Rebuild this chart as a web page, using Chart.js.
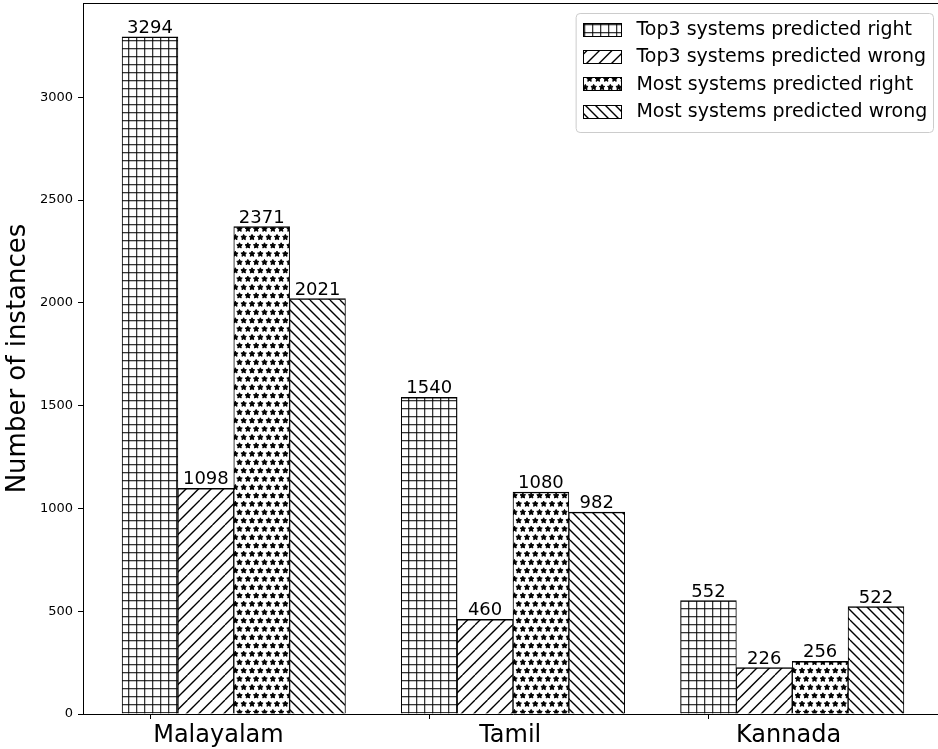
<!DOCTYPE html>
<html><head><meta charset="utf-8">
<script src="https://cdn.jsdelivr.net/npm/chart.js@4.4.1/dist/chart.umd.min.js"></script>
<style>
html,body{margin:0;padding:0;overflow:hidden;background:#fff;width:938px;height:749px}
#wrap{width:938px;height:749px;overflow:hidden;position:relative}
canvas{display:block}
</style></head>
<body><div id="wrap"><canvas id="c" width="944" height="749" style="width:944px;height:749px"></canvas></div>
<script>
// ---- data ----
const categories = ['Malayalam', 'Tamil', 'Kannada'];
const seriesLabels = ['Top3 systems predicted right', 'Top3 systems predicted wrong', 'Most systems predicted right', 'Most systems predicted wrong'];
const top3Right = [3294, 1540, 552];
const top3Wrong = [1098, 460, 226];
const mostRight = [2371, 1080, 256];
const mostWrong = [2021, 982, 522];
const yTicks = [0, 500, 1000, 1500, 2000, 2500, 3000];
const yMax = 3459;
// ---- layout helpers (positions, not data) ----
const xTickMarks = [0, 1, 2];
const labelShift = [0.245, 0.29, 0.287];
const barStep = 0.2;
const FONT = '"DejaVu Sans", sans-serif';

function makePattern(kind) {
  const c = document.createElement('canvas');
  let w = 8, h = 8;
  if (kind === 'fwd') { w = h = 25; }
  if (kind === 'back') { w = h = 20; }
  if (kind === 'stars') { w = 25; h = 50; }
  c.width = w; c.height = h;
  const g = c.getContext('2d');
  g.fillStyle = '#fff'; g.fillRect(0, 0, w, h);
  g.strokeStyle = '#000'; g.fillStyle = '#000';
  if (kind === 'grid') {
    g.strokeStyle = 'rgba(0,0,0,0.78)';
    g.lineWidth = 1.6;
    g.beginPath(); g.moveTo(0.5, 0); g.lineTo(0.5, h); g.stroke();
    g.beginPath(); g.moveTo(0, 0.5); g.lineTo(w, 0.5); g.stroke();
  } else if (kind === 'fwd' || kind === 'back') {
    const s = kind === 'fwd' ? 12.5 : 10;
    g.lineWidth = 1.35;
    for (let o = -w; o <= 2 * w; o += s) {
      g.beginPath();
      if (kind === 'fwd') { g.moveTo(o, h); g.lineTo(o + h, 0); }
      else { g.moveTo(o, 0); g.lineTo(o + h, h); }
      g.stroke();
    }
  } else if (kind === 'stars') {
    const sp = 25 / 3;
    g.lineWidth = 1;
    const star = (cx, cy) => {
      g.beginPath();
      for (let k = 0; k < 10; k++) {
        const r = k % 2 === 0 ? 2.9 : 1.45;
        const ang = -Math.PI / 2 + k * Math.PI / 5;
        const px = cx + r * Math.cos(ang), py = cy + r * Math.sin(ang);
        if (k === 0) g.moveTo(px, py); else g.lineTo(px, py);
      }
      g.closePath(); g.fill(); g.stroke();
    };
    for (let r = -1; r <= 6; r++) {
      for (let col = -1; col <= 3; col++) {
        const cx = col * sp + (((r % 2) + 2) % 2 ? sp / 2 : 0) + 2;
        const cy = r * sp + 4;
        star(cx, cy);
      }
    }
  }
  return g.createPattern(c, 'repeat');
}

const patterns = [makePattern('grid'), makePattern('fwd'), makePattern('stars'), makePattern('back')];
const seriesValues = [top3Right, top3Wrong, mostRight, mostWrong];

const barLabels = {
  id: 'barLabels',
  afterDatasetsDraw(chart) {
    const ctx = chart.ctx;
    ctx.save();
    ctx.font = '18px ' + FONT;
    ctx.fillStyle = '#000';
    ctx.textAlign = 'center';
    ctx.textBaseline = 'alphabetic';
    chart.data.datasets.forEach((ds, j) => {
      const meta = chart.getDatasetMeta(j);
      meta.data.forEach((bar, i) => {
        ctx.fillText(String(seriesValues[j][i]), bar.x, bar.y - 4);
      });
    });
    ctx.restore();
  }
};

const frame = {
  id: 'frame',
  afterDraw(chart) {
    const ctx = chart.ctx, a = chart.chartArea, xs = chart.scales.x;
    ctx.save();
    ctx.strokeStyle = '#000';
    ctx.lineWidth = 1;
    ctx.beginPath(); ctx.moveTo(a.left, a.top + 0.5); ctx.lineTo(a.right, a.top + 0.5); ctx.stroke();
    xTickMarks.forEach(v => {
      const px = Math.round(xs.getPixelForValue(v)) + 0.5;
      ctx.beginPath(); ctx.moveTo(px, a.bottom); ctx.lineTo(px, a.bottom + 5); ctx.stroke();
    });
    ctx.restore();
  }
};

const hatchLegend = {
  id: 'hatchLegend',
  afterDraw(chart) {
    const ctx = chart.ctx, a = chart.chartArea;
    const em = 19;
    ctx.save();
    ctx.font = em + 'px ' + FONT;
    const tw = Math.max(...seriesLabels.map(t => ctx.measureText(t).width));
    const W = 0.4 * em + 2 * em + 0.8 * em + tw + 0.3 * em;
    const H = 119;
    const x0 = a.right - 10 - W, y0 = a.top + 10;
    ctx.beginPath();
    ctx.roundRect(x0 + 0.5, y0 + 0.5, W, H, 4);
    ctx.fillStyle = 'rgba(255,255,255,0.8)';
    ctx.fill();
    ctx.strokeStyle = '#cccccc';
    ctx.lineWidth = 1;
    ctx.stroke();
    seriesLabels.forEach((t, k) => {
      const cy = y0 + 16 + k * 27.4;
      const hx = Math.round(x0 + 0.4 * em) + 0.5, hy = Math.round(cy - 6.5) + 0.5;
      ctx.fillStyle = patterns[k];
      ctx.fillRect(hx, hy, 2 * em, 13);
      ctx.strokeStyle = '#000';
      ctx.lineWidth = 1;
      ctx.strokeRect(hx, hy, 2 * em, 13);
      ctx.fillStyle = '#000';
      ctx.textAlign = 'left';
      ctx.textBaseline = 'middle';
      ctx.fillText(t, x0 + 3.2 * em, cy + 1);
    });
    ctx.restore();
  }
};

new Chart(document.getElementById('c'), {
  type: 'bar',
  data: {
    datasets: seriesValues.map((vals, j) => ({
      label: seriesLabels[j],
      data: vals.map((v, i) => ({ x: i + j * barStep, y: v })),
      backgroundColor: patterns[j],
      borderColor: '#000',
      borderWidth: { top: 1.5, left: 1, right: 1, bottom: 0 },
      grouped: false,
      barPercentage: 1,
      categoryPercentage: 1
    }))
  },
  options: {
    responsive: false,
    animation: false,
    devicePixelRatio: 1,
    layout: { padding: { top: 3, right: 1, left: 0, bottom: 0 } },
    plugins: { legend: { display: false }, tooltip: { enabled: false } },
    scales: {
      x: {
        type: 'linear',
        offset: false,
        min: -0.24,
        max: 2.84,
        afterBuildTicks: s => { s.ticks = categories.map((c, i) => ({ value: i + labelShift[i] })); },
        afterFit: s => { s.height = 35; s.paddingLeft = 0; s.paddingRight = 0; },
        ticks: {
          callback: (v, i) => categories[i],
          font: { family: FONT, size: 24 },
          color: '#000',
          padding: 7,
          maxRotation: 0,
          autoSkip: false
        },
        grid: { display: true, offset: false, drawOnChartArea: false, drawTicks: false },
        border: { display: true, color: '#000', width: 1 }
      },
      y: {
        type: 'linear',
        min: 0,
        max: yMax,
        afterBuildTicks: s => { s.ticks = yTicks.map(v => ({ value: v })); },
        afterFit: s => { s.width = 83; s.paddingTop = 0; s.paddingBottom = 0; },
        ticks: {
          font: { family: FONT, size: 13 },
          color: '#000',
          padding: 5,
          callback: v => String(v)
        },
        grid: { display: true, drawOnChartArea: false, drawTicks: true, tickLength: 5, color: '#000', lineWidth: 1 },
        border: { display: true, color: '#000', width: 1 },
        title: {
          display: true,
          text: 'Number of instances',
          font: { family: FONT, size: 26, lineHeight: 1 },
          color: '#000',
          padding: { top: 5, bottom: 0 }
        }
      }
    }
  },
  plugins: [barLabels, frame, hatchLegend]
});
</script>
</body></html>
